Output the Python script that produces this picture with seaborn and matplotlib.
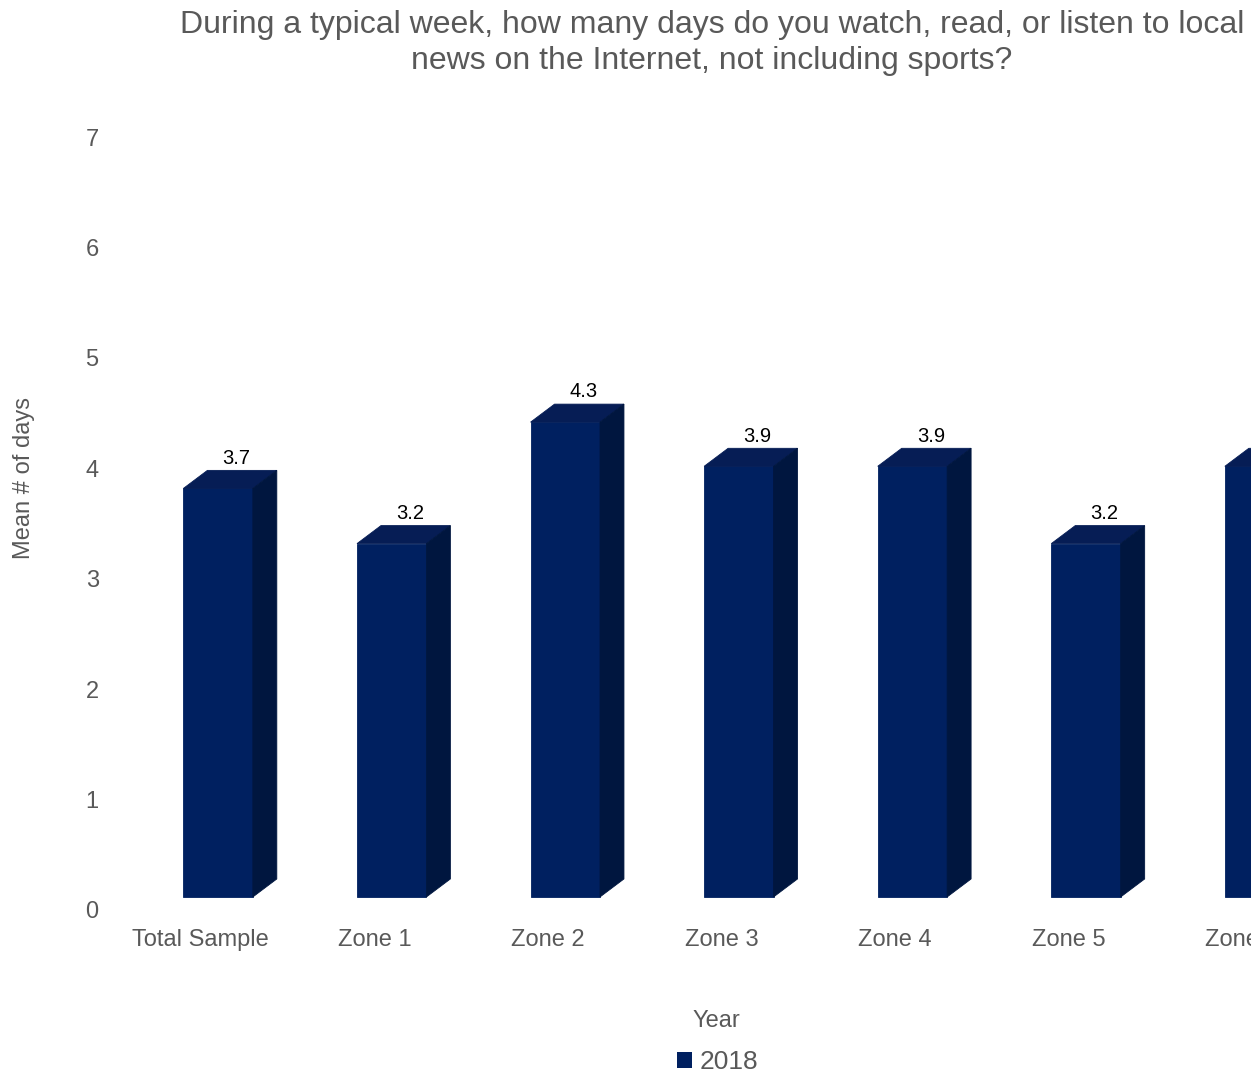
import pandas as pd
import matplotlib.pyplot as plt
import seaborn as sns
from matplotlib.patches import Polygon, Patch

# ----- DATA -----
categories = ['Total Sample', 'Zone 1', 'Zone 2', 'Zone 3', 'Zone 4', 'Zone 5', 'Zone 6']
means_2018 = [3.7, 3.2, 4.3, 3.9, 3.9, 3.2, 3.9]
y_ticks = [0, 1, 2, 3, 4, 5, 6, 7]
series_name = '2018'

title = ('During a typical week, how many days do you watch, read, or listen to local\n'
         'news on the Internet, not including sports?')

df = pd.DataFrame({'Zone': categories, 'Mean': means_2018})

# ----- STYLE -----
sns.set_theme(style='white')
plt.rcParams['font.family'] = ['Liberation Sans', 'DejaVu Sans']

front = '#002060'
side = '#00163F'
top = '#061D55'
grey = '#595959'

fig = plt.figure(figsize=(12.51, 10.76), dpi=100)
# axes runs past the right edge on purpose (last category is cut off in the original)
ax = fig.add_axes([114 / 1251, 166 / 1076, 1215 / 1251, 773 / 1076])

sns.barplot(data=df, x='Zone', y='Mean', color=front, saturation=1, width=0.4, ax=ax)

# fake 3d look: lift bars a bit, shift right, add top and side faces
base = 0.118
dx, dy = 0.138, 0.163
shift = 0.1
bars = list(ax.patches)
for p, val in zip(bars, means_2018):
    p.set_x(p.get_x() + shift)
    p.set_y(base)
    p.set_edgecolor(front)
    p.set_linewidth(0.6)
    x0 = p.get_x()
    x1 = x0 + p.get_width()
    y1 = base + p.get_height()
    ax.add_patch(Polygon([(x0, y1), (x1, y1), (x1 + dx, y1 + dy), (x0 + dx, y1 + dy)],
                         closed=True, fc=top, ec=top, lw=0.6))
    ax.add_patch(Polygon([(x1, base), (x1 + dx, base + dy), (x1 + dx, y1 + dy), (x1, y1)],
                         closed=True, fc=side, ec=side, lw=0.6))
    ax.text((x0 + x1) / 2 + dx * 0.77, y1 + dy + 0.11, f'{val:.1f}',
            ha='center', va='center', fontsize=14.5, color='black')

ax.set_xlim(-0.5, 6.5)
ax.set_ylim(0, 7)
ax.set_yticks(y_ticks)
ax.set_yticklabels([str(t) for t in y_ticks])
sns.despine(ax=ax, left=True, bottom=True)
ax.tick_params(axis='both', length=0, labelsize=17, labelcolor=grey)
ax.tick_params(axis='x', pad=14)
ax.tick_params(axis='y', pad=11)

ax.set_ylabel('Mean # of days', fontsize=17, color=grey)
ax.yaxis.set_label_coords(-0.065, 0.559)
ax.set_xlabel('Year', fontsize=17, color=grey)
ax.xaxis.set_label_coords(0.4955, -0.129)

fig.text(712 / 1251, 1 - 43 / 1076, title, ha='center', va='center',
         fontsize=23, color=grey, linespacing=1.3)

fig.legend(handles=[Patch(fc=front, ec='none', label=series_name)],
           loc='center', bbox_to_anchor=(718 / 1251, 1 - 1062 / 1076),
           frameon=False, fontsize=19, labelcolor=grey,
           handlelength=0.55, handleheight=0.55, handletextpad=0.3)

fig.savefig('out.png', dpi=100)
